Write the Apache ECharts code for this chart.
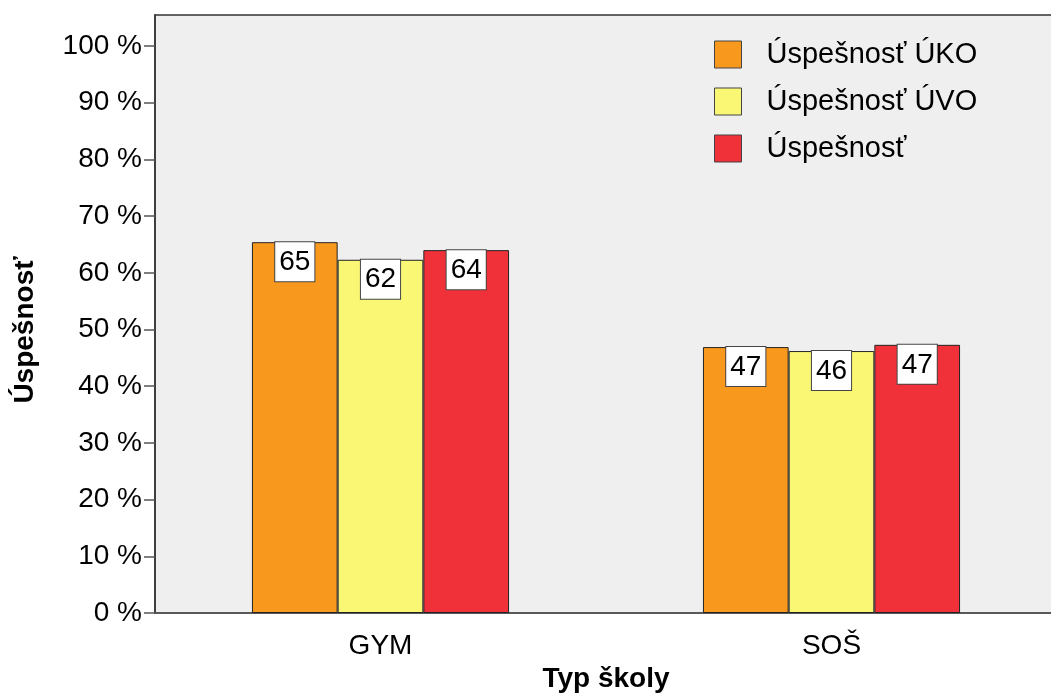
<!DOCTYPE html>
<html>
<head>
<meta charset="utf-8">
<script src="https://cdn.jsdelivr.net/npm/echarts@6/dist/echarts.min.js"></script>
<style>
  html, body { margin: 0; padding: 0; background: #ffffff; }
  #chart { width: 1051px; height: 695px; }
</style>
</head>
<body>
<div id="chart"></div>
<script>
// School types on the category axis
const categories = ['GYM', 'SOŠ'];

// Success rates (%) per school type
const seriesNames = ['Úspešnosť ÚKO', 'Úspešnosť ÚVO', 'Úspešnosť'];
const ukoValues = [65.4, 46.9];
const uvoValues = [62.3, 46.2];
const totalValues = [64.0, 47.3];

// Y axis tick values
const yTicks = [0, 10, 20, 30, 40, 50, 60, 70, 80, 90, 100];

const colors = ['#F8991D', '#FAF774', '#F0313A'];
const font = "'Liberation Sans', Arial, sans-serif";

function barSeries(name, values, color) {
  return {
    name: name,
    type: 'bar',
    data: values,
    barWidth: 85.7,
    barGap: '0%',
    itemStyle: { color: color, borderColor: '#222222', borderWidth: 1 },
    label: {
      show: true,
      position: 'insideTop',
      distance: 0,
      formatter: function (p) { return String(Math.round(p.value)); },
      color: '#000000',
      fontFamily: font,
      fontSize: 28,
      lineHeight: 28,
      backgroundColor: '#ffffff',
      borderColor: '#444444',
      borderWidth: 1,
      padding: [6, 4, 5, 4]
    }
  };
}

const chart = echarts.init(document.getElementById('chart'), null, { renderer: 'canvas' });

chart.setOption({
  animation: false,
  backgroundColor: '#ffffff',
  textStyle: { fontFamily: font },
  grid: {
    left: 155,
    top: 15,
    width: 902,
    height: 598,
    outerBoundsMode: 'none',
    containLabel: false,
    show: true,
    backgroundColor: '#EFEFEF',
    borderColor: '#333333',
    borderWidth: 1.5
  },
  legend: {
    orient: 'vertical',
    left: 709,
    top: 35,
    itemWidth: 27,
    itemHeight: 27,
    itemGap: 18,
    icon: 'rect',
    itemStyle: { borderColor: '#444444', borderWidth: 1 },
    textStyle: { fontFamily: font, fontSize: 29, lineHeight: 27, color: '#000000', padding: [0, 0, 0, 20] },
    data: seriesNames
  },
  xAxis: {
    type: 'category',
    data: categories,
    name: 'Typ školy',
    nameLocation: 'middle',
    nameGap: 51,
    nameTextStyle: { fontFamily: font, fontSize: 28, fontWeight: 'bold', color: '#000000' },
    axisLine: { lineStyle: { color: '#555555', width: 1.5 } },
    axisTick: { alignWithLabel: true, length: 11, lineStyle: { color: '#777777', width: 1.5 } },
    axisLabel: { margin: 19, fontFamily: font, fontSize: 28, color: '#000000' }
  },
  yAxis: {
    type: 'value',
    min: 0,
    max: 105.47,
    interval: 10,
    name: 'Úspešnosť',
    nameLocation: 'middle',
    nameRotate: 90,
    nameGap: 116,
    nameTextStyle: { fontFamily: font, fontSize: 28, fontWeight: 'bold', color: '#000000', padding: [0, 32, 0, 0] },
    splitLine: { show: false },
    axisLine: { show: true, lineStyle: { color: '#333333', width: 1.5 } },
    axisTick: { show: true, length: 11, customValues: yTicks, lineStyle: { color: '#555555', width: 1.5 } },
    axisLabel: {
      margin: 13,
      customValues: yTicks,
      fontFamily: font,
      fontSize: 28,
      color: '#000000',
      padding: [15, 0, 0, 0],
      formatter: function (v) { return v + ' %'; }
    }
  },
  series: [
    barSeries(seriesNames[0], ukoValues, colors[0]),
    barSeries(seriesNames[1], uvoValues, colors[1]),
    barSeries(seriesNames[2], totalValues, colors[2])
  ]
});
</script>
</body>
</html>
